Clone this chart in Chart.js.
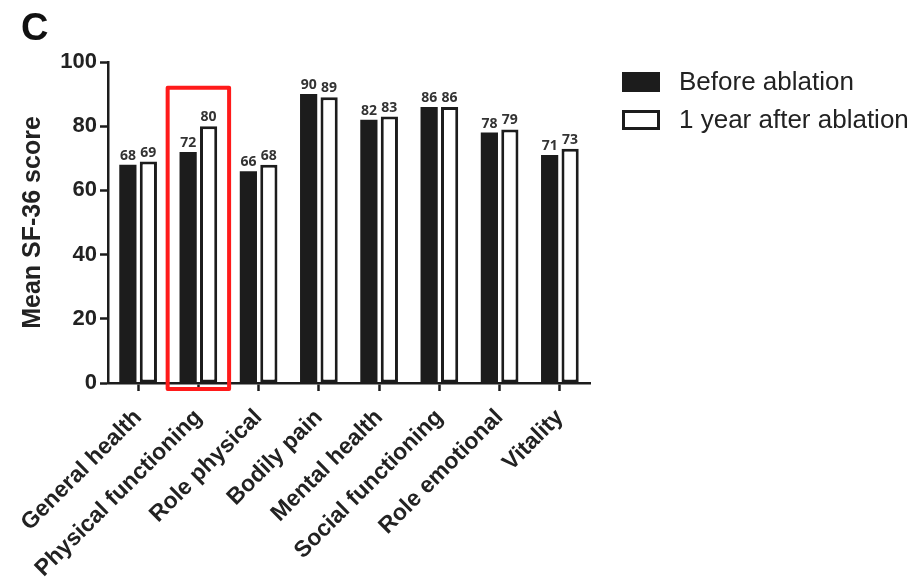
<!DOCTYPE html>
<html>
<head>
<meta charset="utf-8">
<title>SF-36</title>
<script src="https://cdn.jsdelivr.net/npm/chart.js@4/dist/chart.umd.min.js"></script>
<style>
  html, body { margin: 0; padding: 0; background: #fff; }
  #wrap { position: relative; width: 921px; height: 585px; }
</style>
</head>
<body>
<div id="wrap"><canvas id="sfChart" width="921" height="585"></canvas></div>
<script>
const categories = ['General health', 'Physical functioning', 'Role physical', 'Bodily pain',
                    'Mental health', 'Social functioning', 'Role emotional', 'Vitality'];
const beforeAblation = [68, 72, 66, 90, 82, 86, 78, 71];
const afterOneYear = [69, 80, 68, 89, 83, 86, 79, 73];
const seriesNames = ['Before ablation', '1 year after ablation'];
const yTicks = [0, 20, 40, 60, 80, 100];
const highlighted = 1;   // index of the boxed category
const boxTop = 92;       // score level of the box's top edge

const ink = '#1c1c1c';
const textInk = '#222';

// numbers above every bar
const barValues = {
  id: 'barValues',
  afterDatasetsDraw(chart) {
    const ctx = chart.ctx;
    ctx.save();
    ctx.font = 'bold 14px "Open Sans"';
    ctx.fillStyle = '#333';
    ctx.textAlign = 'center';
    ctx.textBaseline = 'alphabetic';
    chart.data.datasets.forEach((ds, i) => {
      chart.getDatasetMeta(i).data.forEach((bar, j) => {
        ctx.fillText(ds.data[j], bar.x, bar.y - 5);
      });
    });
    ctx.restore();
  }
};

// red frame round one category
const highlightBox = {
  id: 'highlightBox',
  afterDraw(chart) {
    const x = chart.scales.x, y = chart.scales.y;
    const half = (x.getPixelForValue(1) - x.getPixelForValue(0)) * 0.51;
    const cx = x.getPixelForValue(highlighted);
    const top = y.getPixelForValue(boxTop);
    const bottom = y.getPixelForValue(0) + 6;
    const ctx = chart.ctx;
    ctx.save();
    ctx.strokeStyle = '#ff1a1a';
    ctx.lineWidth = 4;
    ctx.lineJoin = 'round';
    ctx.strokeRect(cx - half, top, half * 2, bottom - top);
    ctx.restore();
  }
};

// legend on the right and the panel letter
const sideLegend = {
  id: 'sideLegend',
  afterDraw(chart) {
    const ctx = chart.ctx;
    ctx.save();
    ctx.font = 'bold 38px "Liberation Sans", Arial';
    ctx.fillStyle = '#111';
    ctx.textBaseline = 'alphabetic';
    ctx.fillText('C', 21, 40);

    const left = chart.chartArea.right + 32;
    ctx.font = '26px "Liberation Sans", Arial';
    ctx.textBaseline = 'middle';
    chart.data.datasets.forEach((ds, i) => {
      const cy = 82 + i * 38;
      ctx.fillStyle = ds.backgroundColor;
      ctx.strokeStyle = ds.borderColor;
      ctx.lineWidth = 3;
      ctx.beginPath();
      ctx.rect(left + 1.5, cy - 8.5, 35, 17);
      ctx.fill();
      ctx.stroke();
      ctx.fillStyle = textInk;
      ctx.fillText(ds.label, left + 57, cy + 1);
    });
    ctx.restore();
  }
};

new Chart(document.getElementById('sfChart'), {
  type: 'bar',
  data: {
    labels: categories,
    datasets: [{
      label: seriesNames[0],
      data: beforeAblation,
      backgroundColor: ink,
      borderColor: ink,
      borderWidth: 0
    }, {
      label: seriesNames[1],
      data: afterOneYear,
      backgroundColor: '#ffffff',
      borderColor: ink,
      borderWidth: 3,
      borderSkipped: false
    }]
  },
  options: {
    responsive: false,
    animation: false,
    categoryPercentage: 0.68,
    barPercentage: 0.84,
    layout: { padding: { top: 62, right: 331, left: 0, bottom: 0 } },
    plugins: {
      legend: { display: false },
      tooltip: { enabled: false }
    },
    scales: {
      x: {
        afterFit(scale) { scale.height = 202; },
        border: { display: true, color: ink, width: 2.5 },
        grid: { offset: false, drawOnChartArea: false, drawTicks: true,
                tickLength: 8, tickColor: ink, tickWidth: 2.5 },
        ticks: {
          autoSkip: false, minRotation: 45, maxRotation: 45, padding: 13,
          color: textInk, font: { family: '"Liberation Sans", Arial', size: 23, weight: 'bold' }
        }
      },
      y: {
        min: 0, max: 100,
        afterFit(scale) { scale.width = 108; },
        afterBuildTicks(scale) { scale.ticks = yTicks.map(v => ({ value: v })); },
        border: { display: true, color: ink, width: 2.5 },
        grid: { drawOnChartArea: false, drawTicks: true,
                tickLength: 8, tickColor: ink, tickWidth: 2.5 },
        ticks: {
          padding: 3, color: textInk,
          font: { family: '"Liberation Sans", Arial', size: 22, weight: 'bold' }
        },
        title: {
          display: true, text: 'Mean SF-36 score', color: textInk,
          padding: { top: 18, bottom: 0 },
          font: { family: '"Liberation Sans", Arial', size: 25, weight: 'bold' }
        }
      }
    }
  },
  plugins: [barValues, highlightBox, sideLegend]
});
</script>
</body>
</html>
